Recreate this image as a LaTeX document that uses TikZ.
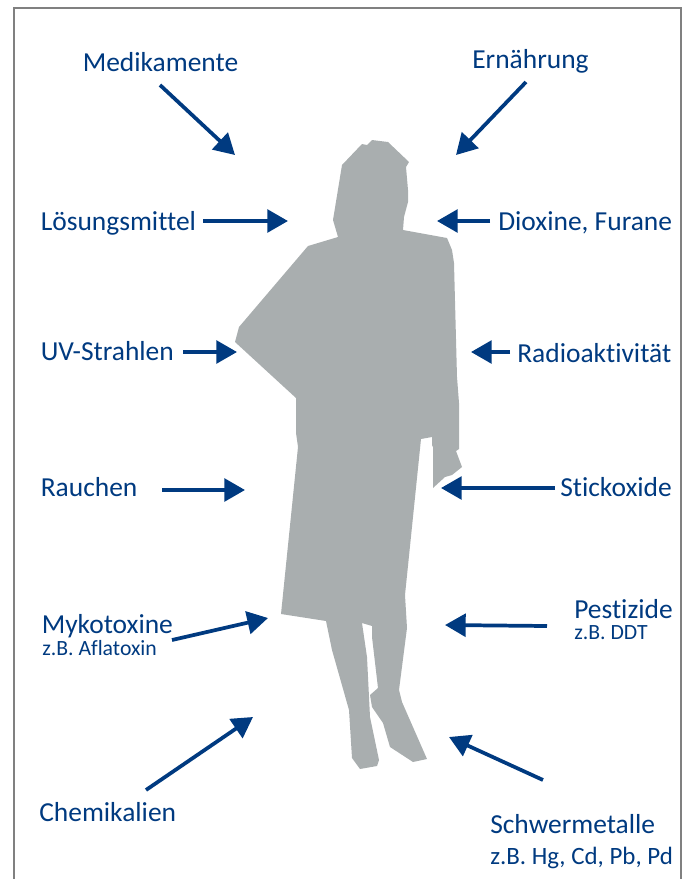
\documentclass[tikz,border=0pt]{standalone}
\usepackage{fontspec}
\setmainfont[Ligatures=NoCommon]{Carlito}
\usetikzlibrary{arrows.meta}
\definecolor{toxblue}{HTML}{003A80}
\definecolor{bodygray}{HTML}{A9AEAF}
\definecolor{framegray}{HTML}{808080}
\tikzset{
  lbl/.style={anchor=base west, inner sep=0pt, text=toxblue, font=\fontsize{20.6}{24}\selectfont},
  sublbl/.style={lbl, font=\fontsize{16.3}{19}\selectfont},
  midlbl/.style={lbl, font=\fontsize{18.7}{22}\selectfont},
  toxarrow/.style={draw=toxblue, line width=2.8pt, -{Triangle[length=15.5pt, width=17pt]}},
}
\begin{document}
\begin{tikzpicture}[x=0.75pt, y=-0.75pt]
\useasboundingbox (0,0) rectangle (691,879);
% frame, open at the bottom
\draw[framegray, line width=1pt] (14,879) -- (14,8) -- (681,8) -- (681,879);
% silhouette
\fill[bodygray] (372,140) -- (388,142) -- (409,162) -- (406,167) -- (408,190) -- (408,202)
  -- (404,217) -- (403,230) -- (447,238) -- (452,250) -- (454,263) -- (457,377) -- (459,403)
  -- (459,449) -- (456,451) -- (462,467) -- (452,475) -- (445,477) -- (433,488) -- (433,447)
  -- (432,445) -- (432,437) -- (421,439) -- (405,595) -- (407,628) -- (399,690) -- (402,702)
  -- (427,759) -- (413,762) -- (390,747) -- (383,723) -- (372,707) -- (370,695) -- (378,688)
  -- (372,637) -- (372,626) -- (362,623) -- (367,657) -- (370,717) -- (379,760) -- (377,766)
  -- (360,769) -- (352,758) -- (349,710) -- (332,650) -- (326,621) -- (281,614) -- (298,447)
  -- (296,433) -- (296,398) -- (235,342) -- (239,327) -- (308,246) -- (338,237) -- (333,220)
  -- (342,165) -- (362,144) -- (367,145) -- cycle;
% left column
\node[lbl] (medikamente) at (82.5,71) {Medikamente};
\node[lbl] (loesung) at (40.5,230) {Lösungsmittel};
\node[lbl] (uv) at (40.5,360) {UV-Strahlen};
\node[lbl] (rauchen) at (40.5,496) {Rauchen};
\node[lbl] (mykotoxine) at (41.5,633) {Mykotoxine};
\node[sublbl] (aflatoxin) at (42,655) {z.B. Aflatoxin};
\node[lbl] (chemikalien) at (39,821) {Chemikalien};
% right column
\node[lbl] (ernaehrung) at (472,68) {Ernährung};
\node[lbl] (dioxine) at (498,230) {Dioxine, Furane};
\node[lbl] (radio) at (517,362) {Radioaktivität};
\node[lbl] (stickoxide) at (560,496) {Stickoxide};
\node[lbl] (pestizide) at (574,618) {Pestizide};
\node[sublbl] (ddt) at (574,639) {z.B. DDT};
\node[lbl] (schwer) at (490,833) {Schwermetalle};
\node[midlbl] (hg) at (490,864) {z.B. Hg, Cd, Pb, Pd};
% arrow ends
\coordinate (medS) at (160,85);   \coordinate (medT) at (235,155);
\coordinate (loeS) at (203,221);  \coordinate (loeT) at (288,221);
\coordinate (uvS) at (183,352);   \coordinate (uvT) at (237,352);
\coordinate (rauS) at (162,490);  \coordinate (rauT) at (245,490);
\coordinate (mykS) at (172,640);  \coordinate (mykT) at (268,618);
\coordinate (cheS) at (146,790);  \coordinate (cheT) at (253,717);
\coordinate (ernS) at (526,82);   \coordinate (ernT) at (456,155);
\coordinate (dioS) at (490,221);  \coordinate (dioT) at (437,221);
\coordinate (radS) at (510,352);  \coordinate (radT) at (471,352);
\coordinate (stiS) at (555,488);  \coordinate (stiT) at (441,488);
\coordinate (pesS) at (547,626);  \coordinate (pesT) at (445,625);
\coordinate (schS) at (543,780);  \coordinate (schT) at (449,737);
% arrows
\draw[toxarrow] (medS) -- (medT);
\draw[toxarrow] (loeS) -- (loeT);
\draw[toxarrow] (uvS) -- (uvT);
\draw[toxarrow] (rauS) -- (rauT);
\draw[toxarrow] (mykS) -- (mykT);
\draw[toxarrow] (cheS) -- (cheT);
\draw[toxarrow] (ernS) -- (ernT);
\draw[toxarrow] (dioS) -- (dioT);
\draw[toxarrow] (radS) -- (radT);
\draw[toxarrow] (stiS) -- (stiT);
\draw[toxarrow] (pesS) -- (pesT);
\draw[toxarrow] (schS) -- (schT);
\end{tikzpicture}
\end{document}
